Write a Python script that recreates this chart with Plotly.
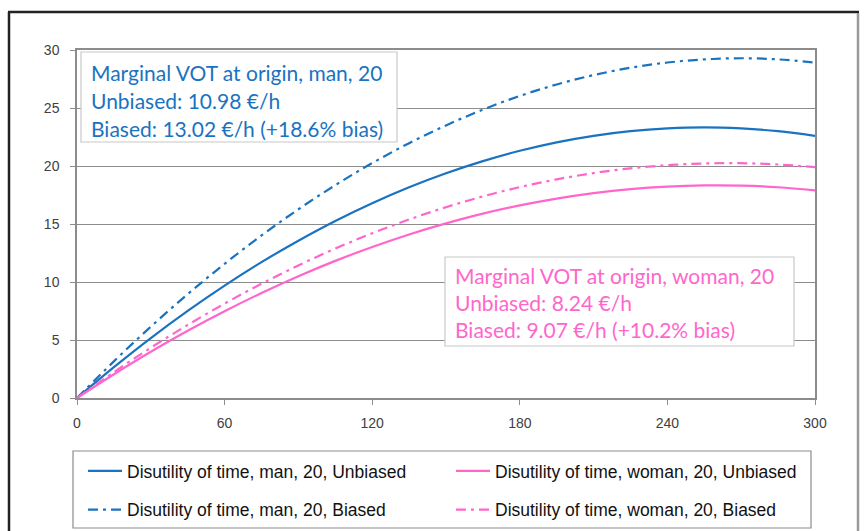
import plotly.graph_objects as go

minutes = [0, 15, 30, 45, 60, 75, 90, 105, 120, 135, 150, 165, 180, 195, 210, 225, 240, 255, 270, 285, 300]
man_unbiased = [0, 2.66, 5.17, 7.51, 9.69, 11.71, 13.56, 15.26, 16.79, 18.16, 19.37, 20.42, 21.31, 22.04, 22.60, 23.00, 23.24, 23.33, 23.24, 23.00, 22.6]
man_biased = [0, 3.16, 6.15, 8.95, 11.57, 14.01, 16.27, 18.35, 20.25, 21.97, 23.50, 24.86, 26.04, 27.03, 27.84, 28.47, 28.92, 29.19, 29.29, 29.19, 28.92]
woman_unbiased = [0, 2.05, 3.99, 5.80, 7.48, 9.05, 10.50, 11.82, 13.02, 14.10, 15.05, 15.89, 16.60, 17.19, 17.66, 18.01, 18.23, 18.33, 18.31, 18.17, 17.9]
woman_biased = [0, 2.23, 4.33, 6.30, 8.14, 9.85, 11.43, 12.88, 14.20, 15.39, 16.45, 17.38, 18.18, 18.85, 19.39, 19.80, 20.07, 20.22, 20.24, 20.13, 19.9]

series_names = [
    "Disutility of time, man, 20, Unbiased",
    "Disutility of time, man, 20, Biased",
    "Disutility of time, woman, 20, Unbiased",
    "Disutility of time, woman, 20, Biased",
]
x_ticks = [0, 60, 120, 180, 240, 300]
y_ticks = [0, 5, 10, 15, 20, 25, 30]

man_box_lines = ["Marginal VOT at origin, man, 20", "Unbiased: 10.98 €/h", "Biased: 13.02 €/h (+18.6% bias)"]
woman_box_lines = ["Marginal VOT at origin, woman, 20", "Unbiased: 8.24 €/h", "Biased: 9.07 €/h (+10.2% bias)"]

BLUE = "#1a73c0"
PINK = "#ff66cc"
DASHDOT = "10px,5px,3px,5px"

fig = go.Figure()
specs = [
    (man_unbiased, series_names[0], BLUE, "solid", "legend", "g1"),
    (man_biased, series_names[1], BLUE, DASHDOT, "legend", "g2"),
    (woman_unbiased, series_names[2], PINK, "solid", "legend2", "g3"),
    (woman_biased, series_names[3], PINK, DASHDOT, "legend2", "g4"),
]
for ys, name, col, dash, leg, grp in specs:
    fig.add_trace(go.Scatter(
        x=minutes, y=ys, name=name, mode="lines",
        line=dict(color=col, width=2.2, dash=dash, shape="spline"),
        legend=leg, legendgroup=grp,
    ))

W, H = 864, 531
L, R, T, B = 77, 49, 50, 133
pw, ph = W - L - R, H - T - B


def px_to_paper_x(px):
    return (px - L) / pw


def px_to_paper_y(py):
    return (H - B - py) / ph


legend_font = dict(family="Liberation Sans, Arial", size=17.5, color="#111111")
tick_font = dict(family="Liberation Sans, Arial", size=14, color="#404040")
fig.update_layout(
    width=W, height=H,
    margin=dict(l=L, r=R, t=T, b=B, autoexpand=False),
    paper_bgcolor="white", plot_bgcolor="white",
    showlegend=True,
    legend=dict(
        x=px_to_paper_x(83), y=px_to_paper_y(453), xanchor="left", yanchor="top",
        orientation="v", font=legend_font, bgcolor="rgba(0,0,0,0)",
        tracegroupgap=13, itemwidth=34,
    ),
    legend2=dict(
        x=px_to_paper_x(451), y=px_to_paper_y(453), xanchor="left", yanchor="top",
        orientation="v", font=legend_font, bgcolor="rgba(0,0,0,0)",
        tracegroupgap=13, itemwidth=34,
    ),
    xaxis=dict(
        range=[0, 300], tickvals=x_ticks, ticktext=[str(v) for v in x_ticks],
        showgrid=False, zeroline=False,
        showline=True, linecolor="#8c8c8c", linewidth=1.5, mirror=True,
        ticks="outside", ticklen=5, tickcolor="#8c8c8c", ticklabelstandoff=6,
        tickfont=tick_font,
    ),
    yaxis=dict(
        range=[0, 30], tickvals=y_ticks,
        showgrid=True, gridcolor="#8c8c8c", gridwidth=1.2, zeroline=False,
        showline=True, linecolor="#8c8c8c", linewidth=1.5, mirror=True,
        ticks="outside", ticklen=5, tickcolor="#8c8c8c", ticklabelstandoff=8,
        tickfont=tick_font,
    ),
)

# Outer frame of the figure
fig.add_shape(type="line", xref="paper", yref="paper",
              x0=px_to_paper_x(9), x1=px_to_paper_x(9), y0=px_to_paper_y(12), y1=px_to_paper_y(540),
              line=dict(color="#222222", width=2.5))
fig.add_shape(type="line", xref="paper", yref="paper",
              x0=px_to_paper_x(8), x1=px_to_paper_x(859), y0=px_to_paper_y(12), y1=px_to_paper_y(12),
              line=dict(color="#222222", width=2.5))
fig.add_shape(type="line", xref="paper", yref="paper",
              x0=px_to_paper_x(858), x1=px_to_paper_x(858), y0=px_to_paper_y(13), y1=px_to_paper_y(540),
              line=dict(color="#9a9a9a", width=2.5))

# Legend box
fig.add_shape(type="rect", xref="paper", yref="paper",
              x0=px_to_paper_x(73), x1=px_to_paper_x(811), y0=px_to_paper_y(451), y1=px_to_paper_y(528),
              line=dict(color="#8c8c8c", width=1.2), fillcolor="rgba(0,0,0,0)")

# Annotation boxes
box_font = "Lato, Open Sans, sans-serif"
fig.add_shape(type="rect", xref="paper", yref="paper",
              x0=px_to_paper_x(81), x1=px_to_paper_x(397), y0=px_to_paper_y(52), y1=px_to_paper_y(142),
              line=dict(color="#c8c8c8", width=1.2), fillcolor="white", layer="above")
fig.add_shape(type="rect", xref="paper", yref="paper",
              x0=px_to_paper_x(445), x1=px_to_paper_x(794), y0=px_to_paper_y(257), y1=px_to_paper_y(346),
              line=dict(color="#c8c8c8", width=1.2), fillcolor="white", layer="above")

for txt, yc in zip(man_box_lines, [72, 100, 128]):
    fig.add_annotation(xref="paper", yref="paper", x=px_to_paper_x(89), y=px_to_paper_y(yc),
                       xanchor="left", yanchor="middle", text=txt, showarrow=False,
                       font=dict(family=box_font, size=21, color=BLUE))
for txt, yc in zip(woman_box_lines, [275, 302, 329]):
    fig.add_annotation(xref="paper", yref="paper", x=px_to_paper_x(453), y=px_to_paper_y(yc),
                       xanchor="left", yanchor="middle", text=txt, showarrow=False,
                       font=dict(family=box_font, size=21, color=PINK))

fig.write_html("out.html")
